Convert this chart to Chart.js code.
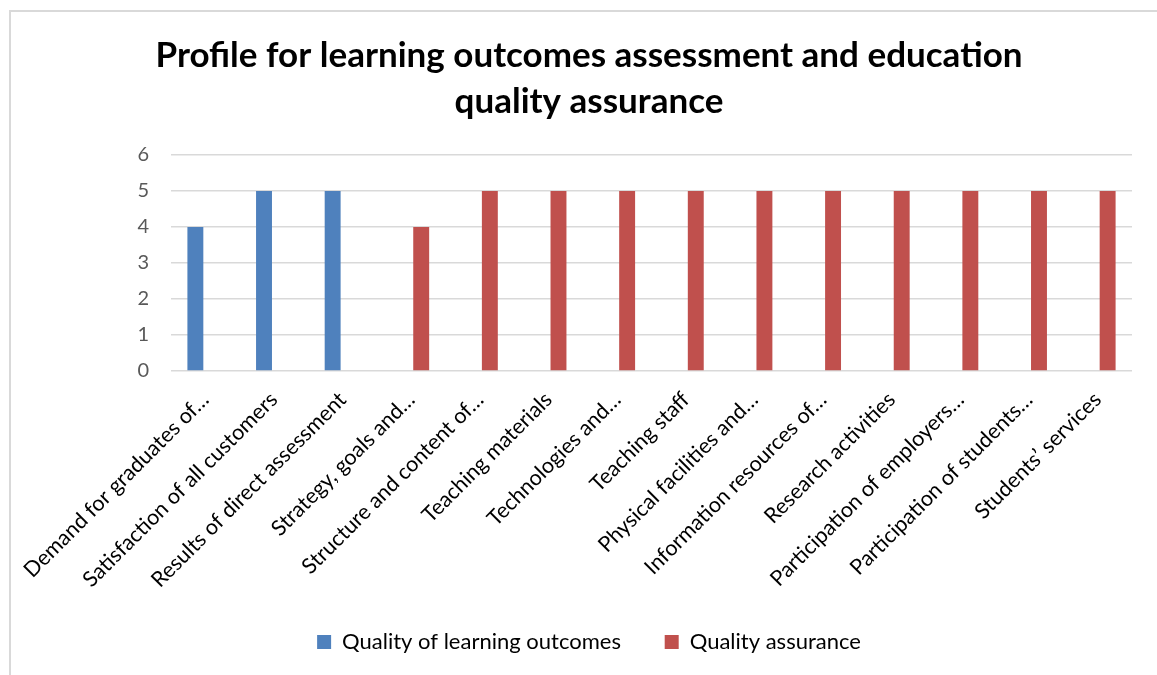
<!DOCTYPE html>
<html>
<head>
<meta charset="utf-8">
<script src="https://cdn.jsdelivr.net/npm/chart.js@4.4.1/dist/chart.umd.min.js"></script>
<style>
  html, body { margin: 0; padding: 0; background: #fff; }
  #frame {
    position: absolute; left: 9px; top: 10px; width: 1160px; height: 680px;
    border-left: 2px solid #d9d9d9; border-top: 2px solid #d9d9d9;
  }
  #wrap { position: absolute; left: 0; top: 0; width: 1157px; height: 675px; }
</style>
</head>
<body>
<div id="frame"></div>
<div id="wrap"><canvas id="chart" width="1157" height="675"></canvas></div>
<script>
const categories = [
  "Demand for graduates of…",
  "Satisfaction of all customers",
  "Results of direct assessment",
  "Strategy, goals and…",
  "Structure and content of…",
  "Teaching materials",
  "Technologies and…",
  "Teaching staff",
  "Physical facilities and…",
  "Information resources of…",
  "Research activities",
  "Participation of employers…",
  "Participation of students…",
  "Students’ services",
];
const learningOutcomes = [4, 5, 5, null, null, null, null, null, null, null, null, null, null, null];
const qualityAssurance = [null, null, null, 4, 5, 5, 5, 5, 5, 5, 5, 5, 5, 5];
const yTicks = [0, 1, 2, 3, 4, 5, 6];

const fontFamily = "Lato, 'Open Sans', sans-serif";

const chart = new Chart(document.getElementById("chart"), {
  type: "bar",
  data: {
    labels: categories,
    datasets: [
      {
        label: "Quality of learning outcomes",
        data: learningOutcomes,
        backgroundColor: "#4F81BD",
        categoryPercentage: 0.58,
        barPercentage: 0.8,
      },
      {
        label: "Quality assurance",
        data: qualityAssurance,
        backgroundColor: "#C0504D",
        categoryPercentage: 0.58,
        barPercentage: 0.8,
      },
    ],
  },
  options: {
    responsive: false,
    animation: false,
    layout: { padding: { left: 21, right: 0, top: 0, bottom: 12 } },
    plugins: {
      title: {
        display: true,
        text: ["Profile for learning outcomes assessment and education", "quality assurance"],
        color: "#000",
        font: { family: fontFamily, size: 35, weight: "bold", lineHeight: 1.3 },
        padding: { top: 33, bottom: 31 },
      },
      legend: {
        position: "bottom",
        labels: {
          color: "#000",
          font: { family: fontFamily, size: 22 },
          boxWidth: 14,
          boxHeight: 14,
          padding: 10,
          generateLabels: (c) => {
            const items = Chart.defaults.plugins.legend.labels.generateLabels(c);
            // wider gap after the first entry, like the original legend
            items[0].text = items[0].text + "      ";
            return items;
          },
        },
      },
      tooltip: { enabled: false },
    },
    scales: {
      x: {
        grid: { display: false },
        border: { display: false },
        ticks: {
          autoSkip: false,
          maxRotation: 45,
          minRotation: 45,
          color: "#000",
          padding: 8,
          font: { family: fontFamily, size: 21.5 },
        },
        afterFit: (scale) => { scale.height = 250; },
      },
      y: {
        min: 0,
        max: 6,
        afterBuildTicks: (scale) => { scale.ticks = yTicks.map((v) => ({ value: v })); },
        grid: { color: "#d9d9d9", lineWidth: 1.5, drawTicks: false },
        border: { display: false },
        ticks: {
          color: "#595959",
          padding: 22,
          font: { family: fontFamily, size: 20 },
        },
        afterFit: (scale) => { scale.width = 150; },
      },
      // empty spacer on the right so the plot ends where the original does
      spacer: {
        type: "linear",
        position: "right",
        grid: { display: false },
        border: { display: false },
        ticks: { display: false },
        afterFit: (scale) => { scale.width = 25; },
      },
    },
  },
});
</script>
</body>
</html>
